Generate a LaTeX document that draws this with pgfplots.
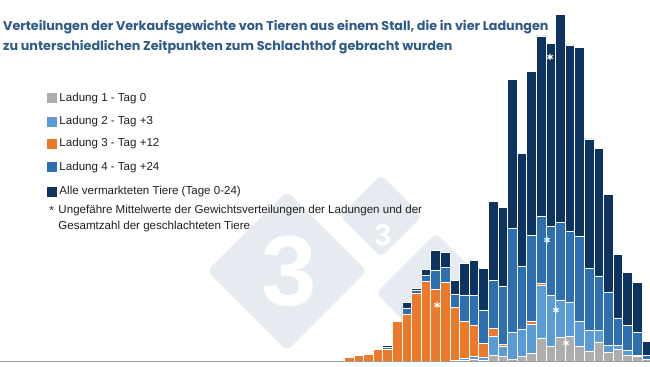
\documentclass[border=0pt]{standalone}
\usepackage{pgfplots}
\pgfplotsset{compat=1.18}
\usepackage{pgfplotstable}
\usepackage{fontspec}
\setmainfont{Liberation Sans}
\newfontfamily\titlefont{Poppins}
\definecolor{cGray}{HTML}{ADADAD}
\definecolor{cLight}{HTML}{5B9BD5}
\definecolor{cOrange}{HTML}{EB7A2A}
\definecolor{cMed}{HTML}{2E6FB2}
\definecolor{cNavy}{HTML}{0D3461}
\definecolor{cTitle}{HTML}{2F5A88}
\definecolor{wm}{HTML}{E6EBF1}
\definecolor{txt}{HTML}{1E1E1E}

\pgfplotstableread{
k g l o m n
0 0 0 1 0 0
1 0 0 1 0.7 1.3
2 0 0 3.3 0 0
3 0 0 5.7 1.3 1
4 0 0 7 0 0
5 0 0 11.7 0 0
6 0 0 11.7 1.7 2
7 0 0 40 0.7 1
8 0 0 47 5.7 5.7
9 0 0 67.7 3 1.7
10 0 0 80 6 5.7
11 0 0 71.7 19.3 20
12 0 0 78.7 14.7 15
13 0 0.7 52.7 13.3 14
14 0.7 1.7 37 26.7 31.7
15 1.7 2.7 31.3 30.3 35
16 1 2.7 14 33.3 41.7
17 6 19 7.7 48.3 78.3
18 4.3 10 2.7 58 78.7
19 1.7 27 0 104 149
20 4.3 27.3 0 62.7 113.3
21 7.7 29.3 2.3 86.7 163.3
22 22.7 53.3 1.7 67.3 180
23 14.3 51.7 0 68.3 183.4
24 23.3 37 0 78.4 207.6
25 25 33.3 0 71 186.7
26 15 24.3 0 85.7 188.7
27 10 21 0 61.7 129.3
28 18.7 11.6 0 54.7 127.3
29 8.7 7.3 0 52.3 98.4
30 11.7 3.6 0 27.4 64.3
31 5.3 5 0 25.4 53.3
32 4.3 1.7 0 22.7 49.6
33 2 0 0 4 13.3
}\datatable

\begin{document}
\begin{tikzpicture}[x=1bp,y=1bp]
\path[use as bounding box] (0,0) rectangle (650,366);
% watermark
\node[fill=wm, minimum size=113bp, inner sep=0, rotate=45, rounded corners=7bp] at (287,95) {};
\node[fill=wm, minimum size=58bp, inner sep=0, rotate=45, rounded corners=5bp] at (381,150) {};
\node[fill=wm, minimum size=85bp, inner sep=0, rotate=45, rounded corners=6bp] at (436,73) {};
\node[text=white, inner sep=0, font=\bfseries\fontsize{100}{100}\selectfont] at (289,95) {3};
\node[text=white, inner sep=0, font=\bfseries\fontsize{30}{30}\selectfont] at (383,131) {3};

\begin{axis}[at={(0,0)}, anchor=south west, scale only axis,
  width=650bp, height=366bp,
  xmin=-34.354, xmax=33.354, ymin=-5, ymax=361,
  hide axis, ybar stacked, bar width=1,
  every axis plot/.append style={draw=white, line width=0.6bp}]
\addplot[fill=cGray] table[x=k,y=g]{\datatable};
\addplot[fill=cLight] table[x=k,y=l]{\datatable};
\addplot[fill=cOrange] table[x=k,y=o]{\datatable};
\addplot[fill=cMed] table[x=k,y=m]{\datatable};
\addplot[fill=cNavy] table[x=k,y=n]{\datatable};
\end{axis}
\begin{axis}[at={(0,0)}, anchor=south west, scale only axis,
  width=650bp, height=366bp,
  xmin=-34.354, xmax=33.354, ymin=-5, ymax=361, hide axis]
\addplot[only marks, mark=asterisk, mark size=3.2, white, line width=1.1bp] coordinates {
(11.17,56) (22.94,304) (22.63,121) (23.56,51) (24.6,18)};
\end{axis}
% baseline
\draw[color=cGray!90!black, line width=1.4bp] (0,4.6) -- (650,4.6);

% title
\node[anchor=base west, inner sep=0, text=cTitle, font=\titlefont\bfseries\fontsize{12.8}{15}\selectfont] at (3,336) {Verteilungen der Verkaufsgewichte von Tieren aus einem Stall, die in vier Ladungen};
\node[anchor=base west, inner sep=0, text=cTitle, font=\titlefont\bfseries\fontsize{12.8}{15}\selectfont] at (3,316) {zu unterschiedlichen Zeitpunkten zum Schlachthof gebracht wurden};

% legend
\fill[cGray] (46.7,262.7) rectangle (56.7,272.7);
\fill[cLight] (46.7,239) rectangle (56.7,249);
\fill[cOrange] (46.7,217) rectangle (56.7,227);
\fill[cMed] (46.7,193.7) rectangle (56.7,203.7);
\fill[cNavy] (46.7,169.3) rectangle (56.7,179.3);
\begin{scope}[every node/.style={anchor=west, inner sep=0, text=txt, font=\fontsize{11.6}{14}\selectfont}]
\node at (59.3,267.7) {Ladung 1 - Tag 0};
\node at (59.3,244) {Ladung 2 - Tag +3};
\node at (59.3,222) {Ladung 3 - Tag +12};
\node at (59.3,198.7) {Ladung 4 - Tag +24};
\node at (59.3,174.3) {Alle vermarkteten Tiere (Tage 0-24)};
\node at (49.3,155) {*};
\node at (58.3,155) {Ungefähre Mittelwerte der Gewichtsverteilungen der Ladungen und der};
\node at (58.3,139.5) {Gesamtzahl der geschlachteten Tiere};
\end{scope}
\end{tikzpicture}
\end{document}
